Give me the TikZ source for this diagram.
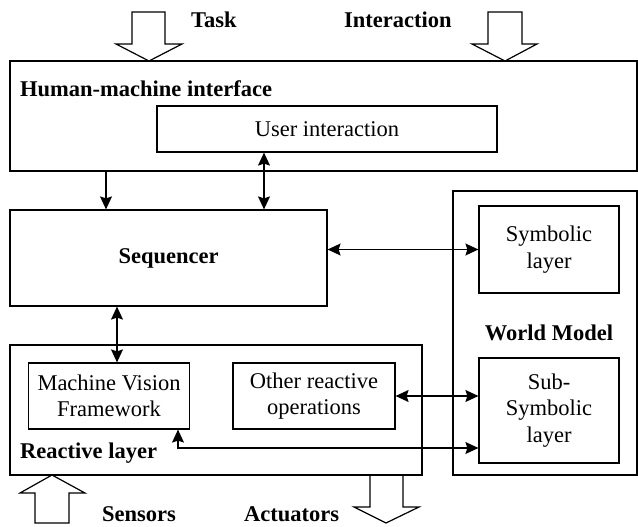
\documentclass[tikz,border=0pt]{standalone}
\usepackage{fontspec}
\setmainfont{Liberation Serif}
\usetikzlibrary{arrows.meta}
\begin{document}
\begin{tikzpicture}[x=1pt,y=-1pt,
  every node/.style={font=\fontsize{22.5}{26.5}\selectfont},
  box/.style={draw,line width=1.2pt,inner sep=0pt},
  lbl/.style={inner sep=0pt,font=\fontsize{22.5}{26.5}\selectfont\bfseries},
  inbox/.style={draw,line width=1.2pt,inner sep=0pt,align=center},
  conn/.style={line width=1.2pt,{Stealth[length=13pt,width=12pt,inset=2pt]}-{Stealth[length=13pt,width=12pt,inset=2pt]}},
  conn1/.style={line width=1.2pt,-{Stealth[length=13pt,width=12pt,inset=2pt]}},
  bigarrow/.style={draw,line width=1.2pt,line join=miter}]
\useasboundingbox (0,0) rectangle (638,527);

% main boxes
\node[box,minimum width=627pt,minimum height=110pt] (hmi) at (323.5,116) {};
\node[inbox,minimum width=340pt,minimum height=46pt] (ui) at (327,129) {User interaction};
\node[box,minimum width=317pt,minimum height=96pt,font=\fontsize{22.5}{26.5}\selectfont\bfseries] (seq) at (168.5,258) {Sequencer};
\node[box,minimum width=184pt,minimum height=284pt] (wm) at (545,333) {};
\node[inbox,minimum width=140pt,minimum height=87pt] (sym) at (549,249.5) {Symbolic\\layer};
\node[inbox,minimum width=140pt,minimum height=105pt] (sub) at (549,410.5) {Sub-\\Symbolic\\layer};
\node[box,minimum width=412pt,minimum height=130pt] (react) at (216,410) {};
\node[inbox,minimum width=161pt,minimum height=66pt] (mvf) at (109,396) {Machine Vision\\Framework};
\node[inbox,minimum width=162pt,minimum height=66pt] (oro) at (314,396) {Other reactive\\operations};

% labels
\node[lbl,anchor=base west] (hmilbl) at (20,97) {Human-machine interface};
\node[lbl,anchor=base west] (reactlbl) at (20,458) {Reactive layer};
\node[lbl,anchor=base] (wmlbl) at (549,340) {World Model};
\node[lbl,anchor=base west] (tasklbl) at (191,28) {Task};
\node[lbl,anchor=base west] (intlbl) at (344,28) {Interaction};
\node[lbl,anchor=base west] (senslbl) at (102,521) {Sensors};
\node[lbl,anchor=base west] (actlbl) at (244,521) {Actuators};

% connectors
\coordinate (xa) at (106,0);
\coordinate (xb) at (264,0);
\coordinate (xc) at (117,0);
\coordinate (xd) at (178,0);
\coordinate (yd) at (0,448);
\draw[conn1] (hmi.south -| xa) -- (seq.north -| xa);
\draw[conn] (ui.south -| xb) -- (seq.north -| xb);
\draw[conn] (seq.east |- sym.west) -- (sym.west);
\draw[conn] (seq.south -| xc) -- (mvf.north -| xc);
\draw[conn] (oro.east) -- (sub.west |- oro.east);
\draw[conn] (mvf.south -| xd) |- (sub.west |- yd);

% big hollow arrows
\draw[bigarrow] (132,12) -- (165,12) -- (165,44) -- (182,44) -- (149,61) -- (116,44) -- (132,44) -- cycle;
\draw[bigarrow] (488,12) -- (522,12) -- (522,44) -- (537,44) -- (505,61) -- (472,44) -- (488,44) -- cycle;
\draw[bigarrow] (35,523) -- (69,523) -- (69,493) -- (85,493) -- (52,475) -- (20,493) -- (35,493) -- cycle;
\draw[bigarrow] (370,475) -- (370,507) -- (354,507) -- (386,523) -- (419,507) -- (403,507) -- (403,475);
\end{tikzpicture}
\end{document}
